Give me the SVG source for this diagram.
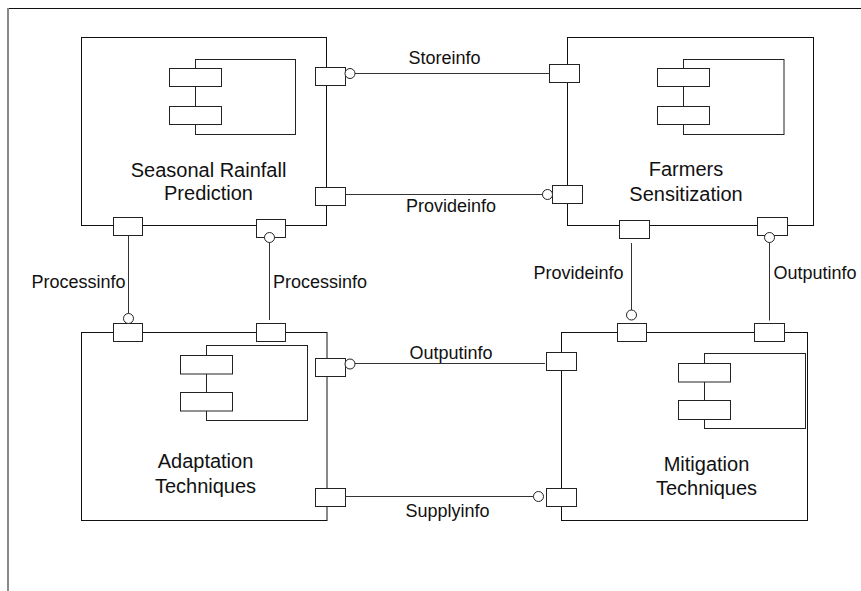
<svg xmlns="http://www.w3.org/2000/svg" width="861" height="591" viewBox="0 0 861 591">
<style>
.box{fill:#fff;stroke:#111;stroke-width:1}
.port{fill:#fff;stroke:#222;stroke-width:1}
.icon{fill:#fff;stroke:#222;stroke-width:1}
.ln{fill:none;stroke:#333;stroke-width:1}
.ball{fill:#fff;stroke:#222;stroke-width:1}
.nt{font-family:"Liberation Sans",Arial,sans-serif;font-size:20px;fill:#111;text-anchor:middle}
.lt{font-family:"Liberation Sans",Arial,sans-serif;font-size:18px;fill:#111}
</style>
<rect width="861" height="591" fill="#fff"/>
<g id="frame">
<line x1="7" y1="8.5" x2="861" y2="8.5" stroke="#111" stroke-width="1.2"/>
<line x1="8" y1="8" x2="8" y2="591" stroke="#888" stroke-width="2"/>
</g>
<g id="node-seasonal-rainfall-prediction">
<rect class="box" x="81.5" y="37.5" width="245" height="188"/>
<rect class="icon" x="195.5" y="59.5" width="100" height="75"/>
<rect class="icon" x="169.5" y="68.5" width="52" height="18"/>
<rect class="icon" x="169.5" y="106.5" width="52" height="18"/>
<text class="nt" x="208.5" y="177">Seasonal Rainfall</text>
<text class="nt" x="208.5" y="200">Prediction</text>
<rect class="port" x="315.5" y="67.5" width="30" height="18"/>
<rect class="port" x="315.5" y="187.5" width="30" height="18"/>
<rect class="port" x="113.5" y="217.5" width="29" height="18"/>
<rect class="port" x="256.5" y="219.5" width="29" height="18"/>
</g>
<g id="node-farmers-sensitization">
<rect class="box" x="567.5" y="37.5" width="246" height="188"/>
<rect class="icon" x="683.5" y="59.5" width="100.5" height="75"/>
<rect class="icon" x="657.5" y="68.5" width="52" height="18"/>
<rect class="icon" x="657.5" y="106.5" width="52" height="18"/>
<text class="nt" x="686" y="176">Farmers</text>
<text class="nt" x="686" y="201">Sensitization</text>
<rect class="port" x="549.5" y="64.5" width="30" height="18"/>
<rect class="port" x="552.5" y="185.5" width="30" height="18"/>
<rect class="port" x="619.5" y="220.5" width="30" height="18"/>
<rect class="port" x="757.5" y="217.5" width="30" height="18"/>
</g>
<g id="node-adaptation-techniques">
<rect class="box" x="81.5" y="332.5" width="245.5" height="188"/>
<rect class="icon" x="206.5" y="345.5" width="101" height="75"/>
<rect class="icon" x="180.5" y="355.5" width="52" height="18.5"/>
<rect class="icon" x="180.5" y="392.5" width="52" height="18.5"/>
<text class="nt" x="205.5" y="468">Adaptation</text>
<text class="nt" x="205.5" y="492.5">Techniques</text>
<rect class="port" x="113.5" y="323.5" width="29" height="18"/>
<rect class="port" x="256.5" y="323.5" width="29" height="18"/>
<rect class="port" x="315.5" y="358.5" width="30" height="18"/>
<rect class="port" x="315.5" y="488.5" width="30" height="18"/>
</g>
<g id="node-mitigation-techniques">
<rect class="box" x="561.5" y="332.5" width="246" height="188"/>
<rect class="icon" x="704.5" y="353.5" width="101" height="75"/>
<rect class="icon" x="678.5" y="363.5" width="52" height="18.5"/>
<rect class="icon" x="678.5" y="400.5" width="52" height="19"/>
<text class="nt" x="706.5" y="471">Mitigation</text>
<text class="nt" x="706.5" y="495">Techniques</text>
<rect class="port" x="617.5" y="323.5" width="29" height="18"/>
<rect class="port" x="754.5" y="323.5" width="30" height="18"/>
<rect class="port" x="546.5" y="352.5" width="30" height="18"/>
<rect class="port" x="546.5" y="488.5" width="30" height="18"/>
</g>
<g id="connectors">
<line class="ln" x1="355" y1="73.5" x2="549.5" y2="73.5"/>
<circle class="ball" cx="350" cy="73.5" r="5"/>
<text class="lt" x="444.5" y="63.5" text-anchor="middle">Storeinfo</text>
<line class="ln" x1="345.5" y1="194.5" x2="542.5" y2="194.5"/>
<circle class="ball" cx="547.5" cy="194.5" r="5"/>
<text class="lt" x="451" y="211.5" text-anchor="middle">Provideinfo</text>
<line class="ln" x1="128.5" y1="235.5" x2="128.5" y2="313.5"/>
<circle class="ball" cx="128.5" cy="318.5" r="5"/>
<text class="lt" x="78.5" y="288" text-anchor="middle">Processinfo</text>
<line class="ln" x1="269.5" y1="242.5" x2="269.5" y2="320"/>
<circle class="ball" cx="269.5" cy="237.5" r="5"/>
<text class="lt" x="273" y="288">Processinfo</text>
<line class="ln" x1="631.5" y1="243" x2="631.5" y2="310"/>
<circle class="ball" cx="631.5" cy="315" r="5"/>
<text class="lt" x="578.5" y="279" text-anchor="middle">Provideinfo</text>
<line class="ln" x1="769.5" y1="242.5" x2="769.5" y2="320.5"/>
<circle class="ball" cx="769.5" cy="237.5" r="5"/>
<text class="lt" x="773.5" y="279">Outputinfo</text>
<line class="ln" x1="355" y1="363.5" x2="545" y2="363.5"/>
<circle class="ball" cx="350" cy="364" r="5"/>
<text class="lt" x="451" y="358.5" text-anchor="middle">Outputinfo</text>
<line class="ln" x1="345.5" y1="496.5" x2="533.5" y2="496.5"/>
<circle class="ball" cx="538.5" cy="496.5" r="5"/>
<text class="lt" x="447.5" y="517" text-anchor="middle">Supplyinfo</text>
</g>
</svg>
